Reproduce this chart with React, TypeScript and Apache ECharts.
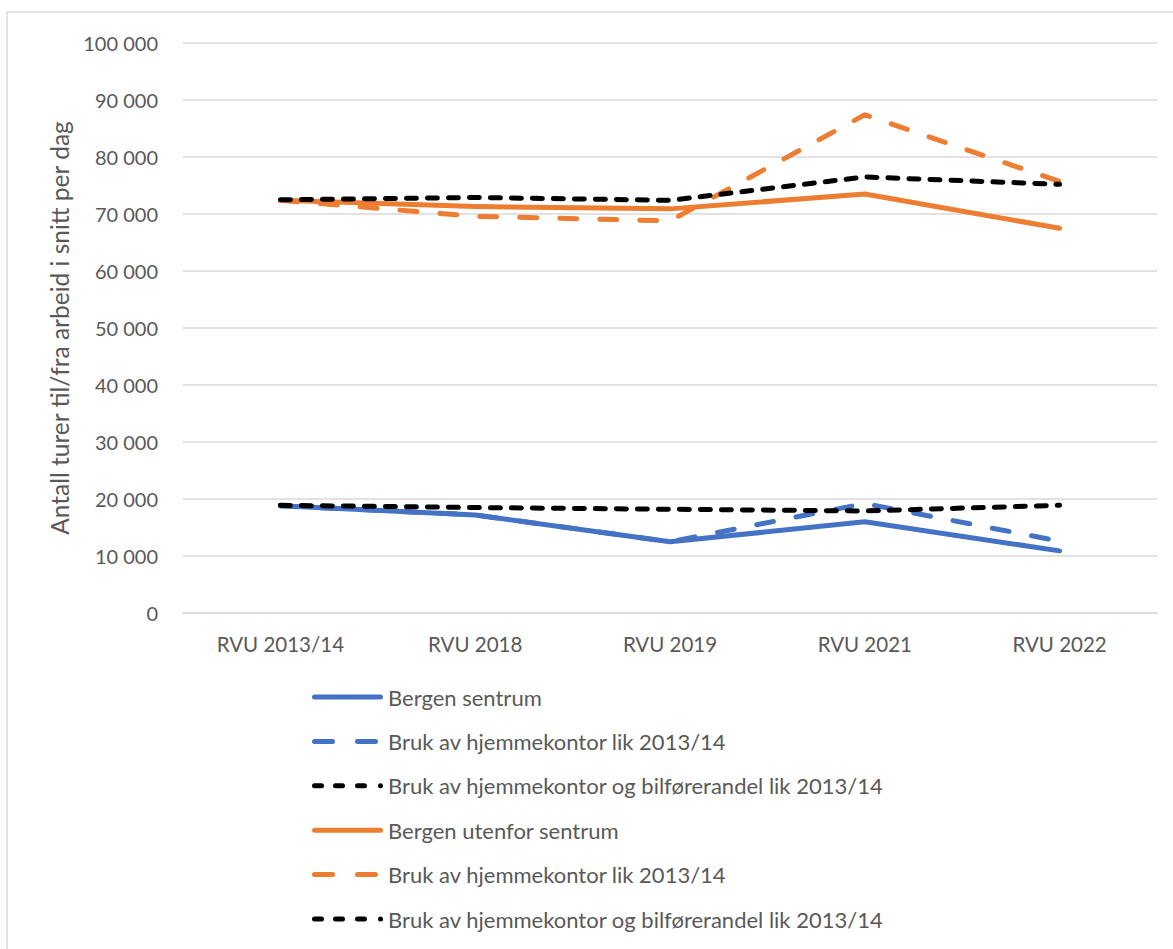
import React, { useEffect, useRef } from "react";
import * as echarts from "echarts";

const categories = ["RVU 2013/14", "RVU 2018", "RVU 2019", "RVU 2021", "RVU 2022"];
const bergenSentrum = [18800, 17200, 12500, 16000, 10900];
const sentrumHjemmekontor = [18800, 17200, 12500, 19200, 12600];
const sentrumHjemmekontorBil = [18900, 18500, 18200, 17900, 18900];
const bergenUtenfor = [72400, 71300, 70900, 73500, 67500];
const utenforHjemmekontor = [72400, 69600, 68800, 87400, 75700];
const utenforHjemmekontorBil = [72500, 72900, 72400, 76500, 75200];

const BLUE = "#4472C4";
const ORANGE = "#ED7D31";
const BLACK = "#000000";
const FONT = "Lato";
const ZW = "\u200B";

const ICON_SOLID = "path://M2.5,0 H68.5 A2.5,2.5 0 0 1 68.5,5 H2.5 A2.5,2.5 0 0 1 2.5,0 Z";
const ICON_DASH =
  "path://M2.5,0 H20.5 A2.5,2.5 0 0 1 20.5,5 H2.5 A2.5,2.5 0 0 1 2.5,0 Z M45.5,0 H63.5 A2.5,2.5 0 0 1 63.5,5 H45.5 A2.5,2.5 0 0 1 45.5,0 Z M71,2.5 L71,2.5 Z";
const ICON_DOT =
  "path://M2.5,0 H9.5 A2.5,2.5 0 0 1 9.5,5 H2.5 A2.5,2.5 0 0 1 2.5,0 Z M23.5,0 H30.5 A2.5,2.5 0 0 1 30.5,5 H23.5 A2.5,2.5 0 0 1 23.5,0 Z M45.5,0 H52.5 A2.5,2.5 0 0 1 52.5,5 H45.5 A2.5,2.5 0 0 1 45.5,0 Z M66,2.5 A2.5,2.5 0 1 1 71,2.5 A2.5,2.5 0 1 1 66,2.5 Z";

export default function App() {
  const ref = useRef<HTMLDivElement>(null);
  useEffect(() => {
    document.body.style.margin = "0";
    const chart = echarts.init(ref.current!, undefined, { renderer: "svg" });
    const mk = (name: string, data: number[], color: string, kind: "solid" | "dash" | "dot") => ({
      name,
      type: "line",
      data,
      symbol: "none",
      lineStyle: {
        color,
        width: 5,
        type: kind === "solid" ? "solid" : kind === "dash" ? [17, 23] : [10, 11],
        cap: "round",
        join: "round",
      },
      itemStyle: { color },
    });
    const names = [
      "Bergen sentrum",
      "Bruk av hjemmekontor lik 2013/14",
      "Bruk av hjemmekontor og bilførerandel lik 2013/14",
      "Bergen utenfor sentrum",
      "Bruk av hjemmekontor lik 2013/14" + ZW,
      "Bruk av hjemmekontor og bilførerandel lik 2013/14" + ZW,
    ];
    const icons = [ICON_SOLID, ICON_DASH, ICON_DOT, ICON_SOLID, ICON_DASH, ICON_DOT];
    chart.setOption({
      animation: false,
      textStyle: { fontFamily: FONT },
      graphic: [
        {
          type: "rect",
          shape: { x: 7, y: 12, width: 1300, height: 1100 },
          style: { fill: "none", stroke: "#d9d9d9", lineWidth: 1.5 },
          silent: true,
        },
      ],
      grid: { left: 183, right: 16, top: 43, bottom: 336, containLabel: false },
      xAxis: {
        type: "category",
        data: categories,
        boundaryGap: true,
        axisLine: { show: true, lineStyle: { color: "#d9d9d9", width: 1.5 } },
        axisTick: { show: false },
        axisLabel: { color: "#595959", fontSize: 20.5, margin: 20, fontFamily: FONT },
      },
      yAxis: {
        type: "value",
        min: 0,
        max: 100000,
        interval: 10000,
        name: "Antall turer til/fra arbeid i snitt per dag",
        nameLocation: "middle",
        nameGap: 111,
        nameTextStyle: { color: "#595959", fontSize: 24.5, fontFamily: FONT },
        axisLine: { show: false },
        axisTick: { show: false },
        splitLine: { lineStyle: { color: "#d9d9d9", width: 1.5 } },
        axisLabel: {
          color: "#595959",
          fontSize: 20,
          margin: 25,
          fontFamily: FONT,
          formatter: (v: number) => String(v).replace(/\B(?=(\d{3})+(?!\d))/g, " "),
        },
      },
      legend: {
        orient: "vertical",
        left: 312,
        top: 686,
        height: 262,
        padding: 0,
        itemWidth: 71,
        itemHeight: 5,
        itemGap: 22.4,
        data: names.map((n, i) => ({ name: n, icon: icons[i] })),
        textStyle: { color: "#595959", fontSize: 22, fontFamily: FONT },
        formatter: (n: string) => n.replace(/\u200B/g, ""),
      },
      series: [
        mk(names[0], bergenSentrum, BLUE, "solid"),
        mk(names[1], sentrumHjemmekontor, BLUE, "dash"),
        mk(names[2], sentrumHjemmekontorBil, BLACK, "dot"),
        mk(names[3], bergenUtenfor, ORANGE, "solid"),
        mk(names[4], utenforHjemmekontor, ORANGE, "dash"),
        mk(names[5], utenforHjemmekontorBil, BLACK, "dot"),
      ],
    });
    return () => chart.dispose();
  }, []);
  return <div ref={ref} style={{ width: 1173, height: 949 }} />;
}
